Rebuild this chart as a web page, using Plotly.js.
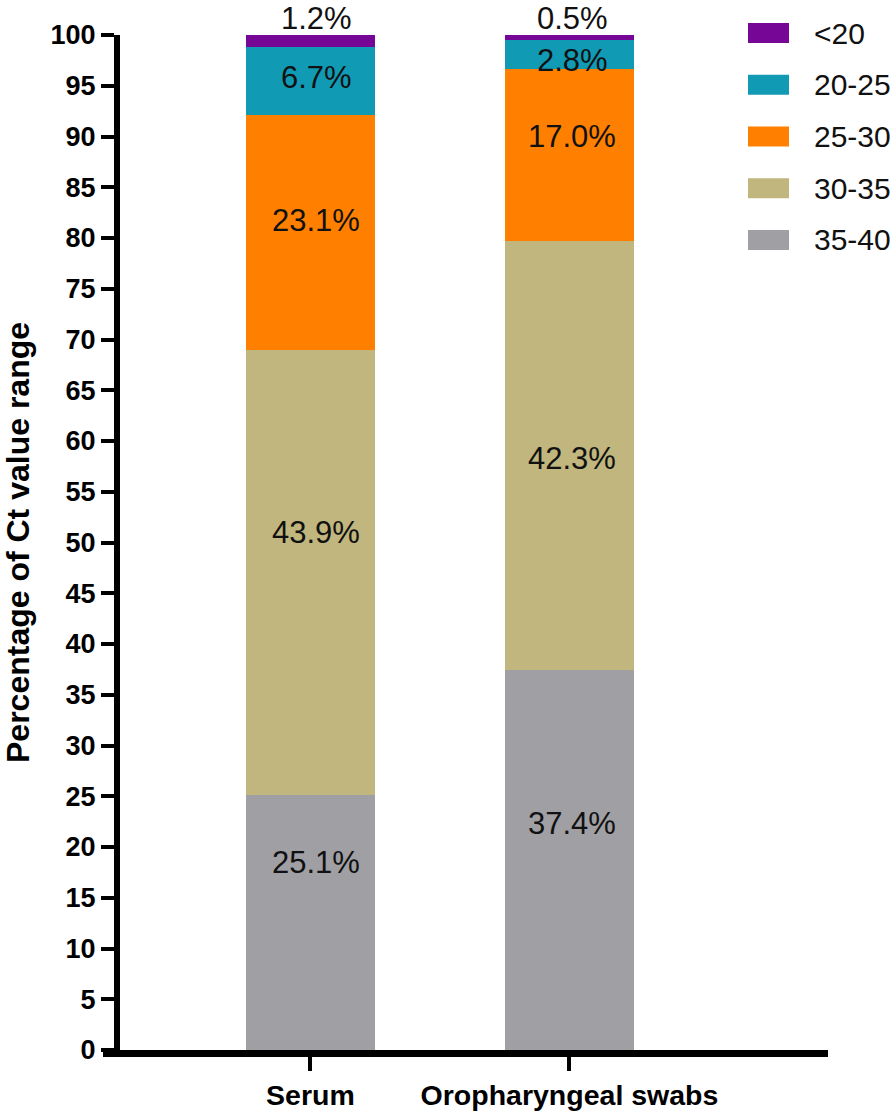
<!DOCTYPE html>
<html>
<head>
<meta charset="utf-8">
<script src="https://cdn.plot.ly/plotly-3.0.1.min.js"></script>
<style>
  html, body { margin: 0; padding: 0; background: #fff; }
  #chart { width: 896px; height: 1113px; }
</style>
</head>
<body>
<div id="chart"></div>
<script>
// sample types on the x axis
var samples = ["Serum", "Oropharyngeal swabs"];

// Ct value ranges, bottom of the stack first
var ranges = ["35-40", "30-35", "25-30", "20-25", "<20"];

// percentage of samples in each Ct range
var pct_35_40 = [25.1, 37.4];
var pct_30_35 = [43.9, 42.3];
var pct_25_30 = [23.1, 17.0];
var pct_20_25 = [6.7, 2.8];
var pct_lt20 = [1.2, 0.5];

var yTicks = [0, 5, 10, 15, 20, 25, 30, 35, 40, 45, 50, 55, 60, 65, 70, 75, 80, 85, 90, 95, 100];

var series = [pct_35_40, pct_30_35, pct_25_30, pct_20_25, pct_lt20];
var colors = ["#A09FA4", "#C1B67D", "#FF8000", "#119AB4", "#760696"];

// label nudges in px (up positive), one per range and sample, as in the figure
var nudgeY = [[60, 37], [40, -3], [12, 18], [4, -6], [-2, -2]];
var nudgeX = [6, 3];

var labelFont = {family: "Liberation Sans, Arial, sans-serif", size: 31, color: "#111"};
var boldFont = "Liberation Sans, Arial, sans-serif";

var data = [];
for (var i = 0; i < ranges.length; i++) {
    data.push({
        type: "bar",
        x: samples,
        y: series[i],
        name: ranges[i],
        width: 0.5,
        marker: {color: colors[i], line: {width: 0}},
        hoverinfo: "skip",
        showlegend: false
    });
}

// value labels (the smallest range sits above the bar)
var annotations = [];
var base = [0, 0];
for (var i = 0; i < ranges.length; i++) {
    var isTop = (i === ranges.length - 1);
    for (var j = 0; j < samples.length; j++) {
        var v = series[i][j];
        annotations.push({
            x: samples[j],
            y: isTop ? base[j] + v : base[j] + v / 2,
            xref: "x", yref: "y",
            text: v.toFixed(1) + "%",
            showarrow: false,
            font: labelFont,
            xshift: nudgeX[j],
            yshift: nudgeY[i][j],
            yanchor: isTop ? "bottom" : "middle",
            xanchor: "center",
            borderpad: 0
        });
        base[j] += v;
    }
}

// legend drawn by hand so the swatches keep their size
var plotL = 120, plotR = 828, plotT = 35, plotB = 1050;
function px2x(p) { return (p - plotL) / (plotR - plotL); }
function px2y(p) { return (plotB - p) / (plotB - plotT); }

var shapes = [];
var legendRows = ranges.slice().reverse();
var legendColors = colors.slice().reverse();
for (var k = 0; k < legendRows.length; k++) {
    var cy = 33 + k * 51.75;
    shapes.push({
        type: "rect", xref: "paper", yref: "paper",
        x0: px2x(748), x1: px2x(789),
        y0: px2y(cy + 10), y1: px2y(cy - 10),
        fillcolor: legendColors[k], line: {width: 0}
    });
    annotations.push({
        xref: "paper", yref: "paper",
        x: px2x(812), y: px2y(cy),
        xanchor: "left", yanchor: "middle",
        text: legendRows[k],
        showarrow: false,
        font: {family: labelFont.family, size: 30, color: "#111"}
    });
}

// the x axis line runs a little past the y axis on the left
shapes.push({
    type: "line", xref: "paper", yref: "paper",
    x0: px2x(103), x1: 0, y0: px2y(1053.5), y1: px2y(1053.5),
    line: {color: "#000", width: 7}
});

var layout = {
    width: 896,
    height: 1113,
    barmode: "stack",
    paper_bgcolor: "#fff",
    plot_bgcolor: "#fff",
    margin: {l: plotL, r: 896 - plotR, t: plotT, b: 1113 - plotB, pad: 0},
    xaxis: {
        type: "category",
        range: [-0.735, 1.998],
        showline: true,
        linecolor: "#000",
        linewidth: 7,
        ticks: "outside",
        ticklen: 14,
        tickwidth: 4,
        tickcolor: "#000",
        showgrid: false,
        zeroline: false,
        fixedrange: true,
        tickfont: {family: boldFont, size: 28.5, color: "#000", weight: "bold"}
    },
    yaxis: {
        range: [0, 100],
        tickvals: yTicks,
        ticktext: yTicks.map(String),
        showline: true,
        linecolor: "#000",
        linewidth: 6,
        ticks: "outside",
        ticklen: 13,
        tickwidth: 4,
        tickcolor: "#000",
        showgrid: false,
        zeroline: false,
        fixedrange: true,
        tickfont: {family: boldFont, size: 27, color: "#000", weight: "bold"},
        title: {
            text: "Percentage of Ct value range",
            font: {family: boldFont, size: 32, color: "#000", weight: "bold"},
            standoff: 13
        }
    },
    shapes: shapes,
    annotations: annotations,
    showlegend: false
};

Plotly.newPlot("chart", data, layout, {displayModeBar: false, staticPlot: true});
</script>
</body>
</html>
